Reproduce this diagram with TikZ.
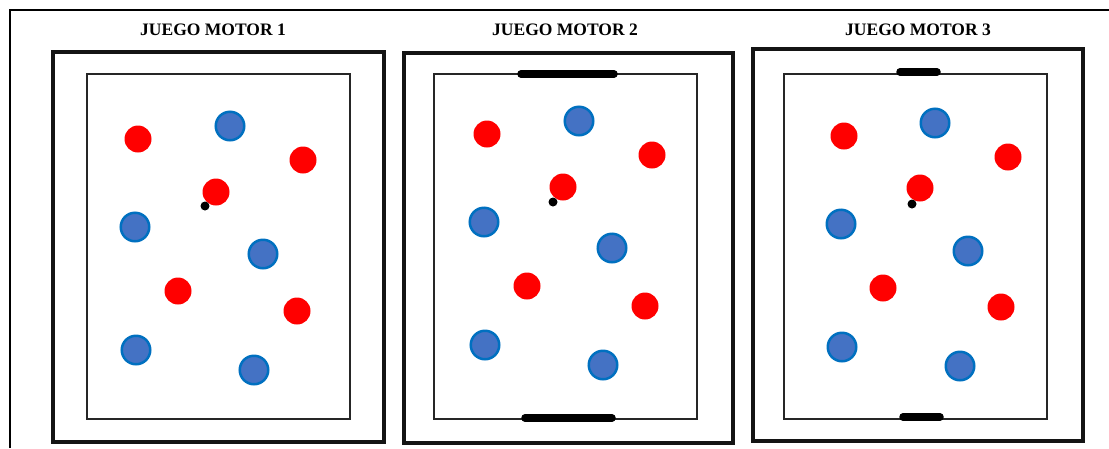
\documentclass[tikz,border=0pt]{standalone}
\usepackage{fontspec}
\setmainfont{Liberation Serif}
\definecolor{pred}{RGB}{255,0,0}
\definecolor{pbluefill}{RGB}{68,114,196}
\definecolor{pblueline}{RGB}{0,112,192}
\begin{document}
\begin{tikzpicture}[x=1pt,y=-1pt,
  redp/.style={circle,fill=pred,draw=none,minimum size=27pt,inner sep=0pt},
  bluep/.style={circle,fill=pbluefill,draw=pblueline,line width=2.5pt,minimum size=28.5pt,inner sep=0pt},
  ballp/.style={circle,fill=black,minimum size=9pt,inner sep=0pt},
  outerbox/.style={draw=black!92,line width=4pt},
  innerbox/.style={draw=black!85,line width=1.5pt},
  goalbar/.style={draw=black,line width=7.5pt,line cap=round},
  title/.style={font=\bfseries\fontsize{17.5}{20}\selectfont,inner sep=0pt}]
\useasboundingbox (0,0) rectangle (1109,448);
% outer frame (open at right and bottom)
\draw[line width=2pt] (10,448) -- (10,10) -- (1109,10);
% titles
\node[title] (t1) at (213,30) {JUEGO MOTOR 1};
\node[title] (t2) at (565,30) {JUEGO MOTOR 2};
\node[title] (t3) at (918,30) {JUEGO MOTOR 3};
% panel 1
\draw[outerbox] (53,52) rectangle (384,442);
\draw[innerbox] (87,74) rectangle (350,419);
% panel 2
\draw[outerbox] (404,53) rectangle (733,443);
\draw[innerbox] (434,74) rectangle (697,419);
\draw[goalbar] (521,74) -- (614,74);
\draw[goalbar] (525,418) -- (612,418);
% panel 3
\draw[outerbox] (753,49) rectangle (1083,441);
\draw[innerbox] (784,74) rectangle (1047,419);
\draw[goalbar] (900,72) -- (937,72);
\draw[goalbar] (903,417) -- (940,417);
% players panel 1
\node[redp] (a1) at (138,139) {};
\node[bluep] (a2) at (230,126) {};
\node[redp] (a3) at (303,160) {};
\node[redp] (a4) at (216,192) {};
\node[bluep] (a5) at (135,227) {};
\node[bluep] (a6) at (263,254) {};
\node[redp] (a7) at (178,291) {};
\node[redp] (a8) at (297,311) {};
\node[bluep] (a9) at (136,350) {};
\node[bluep] (a10) at (254,370) {};
\node[ballp] (ab) at (205,206) {};
% players panel 2
\node[redp] (b1) at (487,134) {};
\node[bluep] (b2) at (579,121) {};
\node[redp] (b3) at (652,155) {};
\node[redp] (b4) at (563,187) {};
\node[bluep] (b5) at (484,222) {};
\node[bluep] (b6) at (612,248) {};
\node[redp] (b7) at (527,286) {};
\node[redp] (b8) at (645,306) {};
\node[bluep] (b9) at (485,345) {};
\node[bluep] (b10) at (603,365) {};
\node[ballp] (bb) at (553,202) {};
% players panel 3
\node[redp] (c1) at (844,136) {};
\node[bluep] (c2) at (935,123) {};
\node[redp] (c3) at (1008,157) {};
\node[redp] (c4) at (920,188) {};
\node[bluep] (c5) at (841,224) {};
\node[bluep] (c6) at (968,251) {};
\node[redp] (c7) at (883,288) {};
\node[redp] (c8) at (1001,307) {};
\node[bluep] (c9) at (842,347) {};
\node[bluep] (c10) at (960,366) {};
\node[ballp] (cb) at (912,204) {};
\end{tikzpicture}
\end{document}
